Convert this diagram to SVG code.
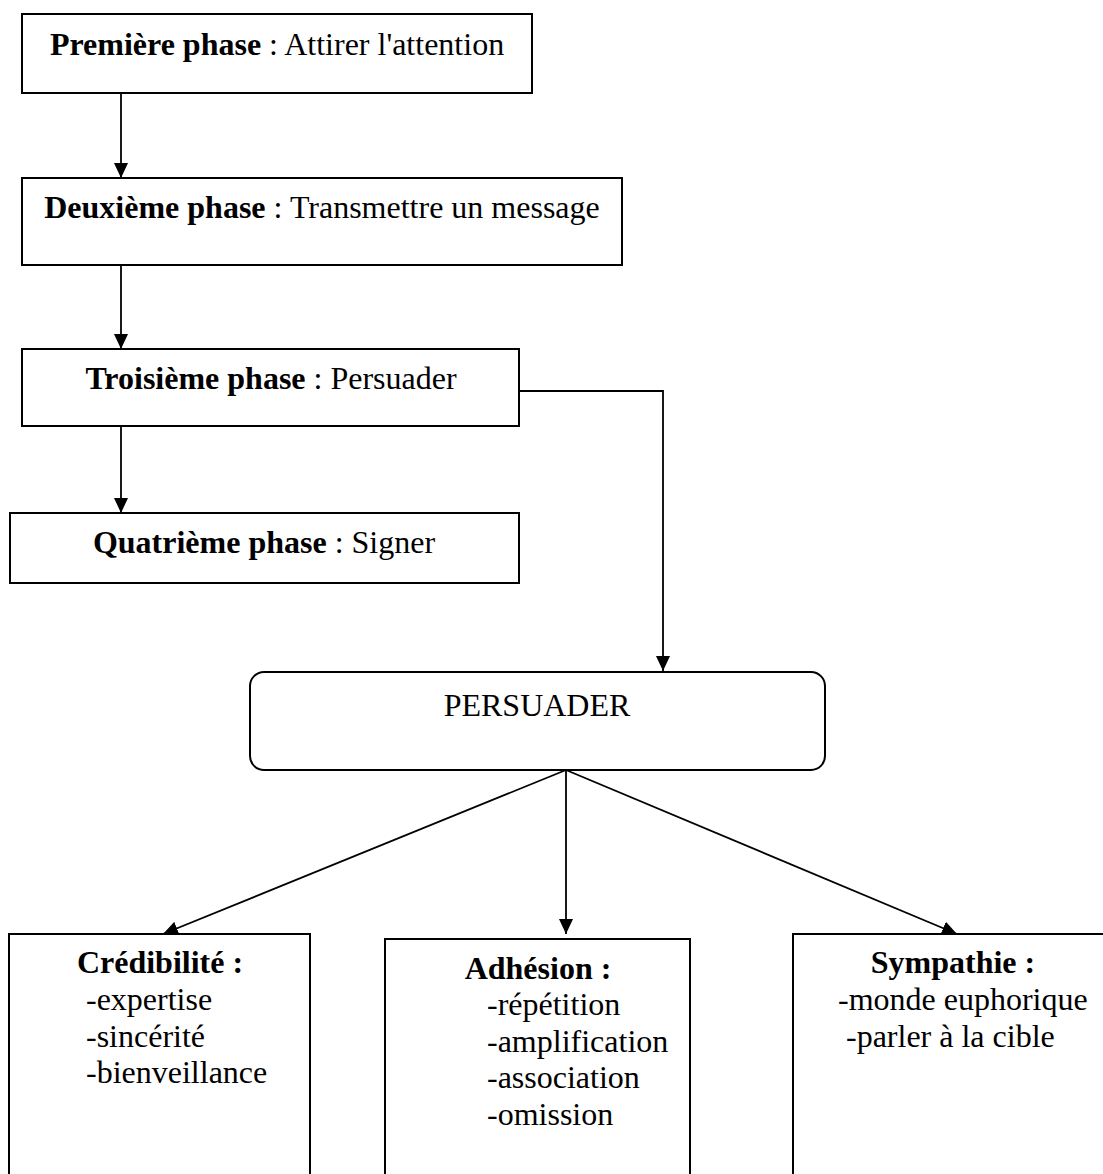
<svg xmlns="http://www.w3.org/2000/svg" width="1103" height="1174" viewBox="0 0 1103 1174">
<style>
  .box { fill: #fff; stroke: #000; stroke-width: 2; }
  .t { font-family: "Liberation Serif", "Times New Roman", serif; font-size: 32px; fill: #000; }
  .b { font-weight: bold; }
  .conn { fill: none; stroke: #000; stroke-width: 1.8; }
</style>
<defs>
  <marker id="arr" markerUnits="userSpaceOnUse" markerWidth="15" markerHeight="14" refX="15" refY="7" orient="auto">
    <path d="M0,0 L15,7 L0,14 z" fill="#000"/>
  </marker>
</defs>
<rect width="1103" height="1174" fill="#fff"/>
<g id="connectors">
  <line class="conn" x1="121" y1="93" x2="121" y2="178" marker-end="url(#arr)"/>
  <line class="conn" x1="121" y1="265" x2="121" y2="349" marker-end="url(#arr)"/>
  <line class="conn" x1="121" y1="426" x2="121" y2="513" marker-end="url(#arr)"/>
  <path class="conn" d="M519,391 H663 V671" marker-end="url(#arr)"/>
  <line class="conn" x1="566" y1="770" x2="163" y2="934" marker-end="url(#arr)"/>
  <line class="conn" x1="566" y1="770" x2="566" y2="934" marker-end="url(#arr)"/>
  <line class="conn" x1="566" y1="770" x2="957" y2="934" marker-end="url(#arr)"/>
</g>
<g id="phase1">
  <rect class="box" x="22" y="14" width="510" height="79"/>
  <text class="t" x="277" y="55" text-anchor="middle"><tspan class="b">Première phase</tspan> : Attirer l'attention</text>
</g>
<g id="phase2">
  <rect class="box" x="22" y="178" width="600" height="87"/>
  <text class="t" x="322" y="218" text-anchor="middle"><tspan class="b">Deuxième phase</tspan> : Transmettre un message</text>
</g>
<g id="phase3">
  <rect class="box" x="22" y="349" width="497" height="77"/>
  <text class="t" x="271" y="389" text-anchor="middle"><tspan class="b">Troisième phase</tspan> : Persuader</text>
</g>
<g id="phase4">
  <rect class="box" x="10" y="513" width="509" height="70"/>
  <text class="t" x="264" y="553" text-anchor="middle"><tspan class="b">Quatrième phase</tspan> : Signer</text>
</g>
<g id="persuader">
  <rect class="box" x="250" y="672" width="575" height="98" rx="14" ry="14"/>
  <text class="t" x="537" y="716" text-anchor="middle">PERSUADER</text>
</g>
<g id="credibilite">
  <rect class="box" x="9" y="934" width="301" height="260"/>
  <text class="t b" x="160" y="973" text-anchor="middle">Crédibilité :</text>
  <text class="t" x="86" y="1010">-expertise</text>
  <text class="t" x="86" y="1047">-sincérité</text>
  <text class="t" x="86" y="1083">-bienveillance</text>
</g>
<g id="adhesion">
  <rect class="box" x="385" y="939" width="305" height="260"/>
  <text class="t b" x="538" y="979" text-anchor="middle">Adhésion :</text>
  <text class="t" x="487" y="1015">-répétition</text>
  <text class="t" x="487" y="1052">-amplification</text>
  <text class="t" x="487" y="1088">-association</text>
  <text class="t" x="487" y="1125">-omission</text>
</g>
<g id="sympathie">
  <rect class="box" x="793" y="934" width="320" height="260"/>
  <text class="t b" x="953" y="973" text-anchor="middle">Sympathie :</text>
  <text class="t" x="838" y="1010">-monde euphorique</text>
  <text class="t" x="846" y="1047">-parler à la cible</text>
</g>
</svg>
